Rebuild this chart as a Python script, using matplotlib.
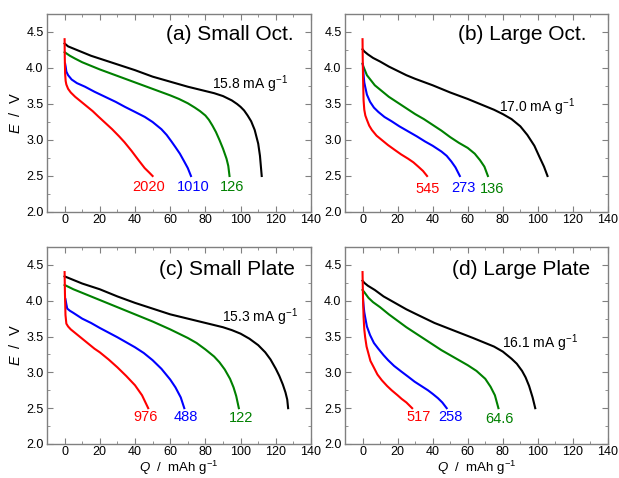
import matplotlib
matplotlib.use("Agg")
import matplotlib.pyplot as plt
from matplotlib.ticker import MultipleLocator, FormatStrFormatter

plt.rcParams['font.family'] = ['Liberation Sans', 'DejaVu Sans']
plt.rcParams['mathtext.fontset'] = 'custom'
plt.rcParams['mathtext.rm'] = 'Liberation Sans'
plt.rcParams['mathtext.it'] = 'Liberation Sans:italic'

# discharge curves: capacity Q (mAh/g) vs potential E (V)
# (a) small octahedra
a_q_black = [0, 2, 5, 10, 15, 20, 30, 40, 50, 60, 70, 80, 85, 90, 95, 98, 100, 102, 104, 106, 108, 110, 111, 112]
a_e_black = [4.34, 4.30, 4.27, 4.22, 4.17, 4.13, 4.05, 3.97, 3.88, 3.81, 3.74, 3.68, 3.65, 3.61, 3.55, 3.50,
             3.46, 3.41, 3.34, 3.26, 3.14, 2.95, 2.78, 2.50]
a_q_green = [0, 3, 6, 10, 15, 20, 30, 40, 50, 60, 65, 70, 74, 77, 80, 82, 84, 86, 88, 90, 92, 93, 93.7]
a_e_green = [4.22, 4.17, 4.13, 4.08, 4.03, 3.98, 3.89, 3.80, 3.71, 3.62, 3.57, 3.51, 3.45, 3.40, 3.34, 3.28,
             3.20, 3.11, 3.00, 2.88, 2.74, 2.64, 2.50]
a_q_blue = [0.3, 0.6, 1, 2, 4, 7, 11.6, 17, 23, 29, 34.3, 40, 45.6, 50, 55, 58, 60.7, 63, 65.5, 68, 70, 71.8]
a_e_blue = [4.06, 4.02, 3.95, 3.90, 3.84, 3.79, 3.74, 3.67, 3.60, 3.53, 3.46, 3.39, 3.32, 3.25, 3.15, 3.07,
            2.98, 2.90, 2.81, 2.70, 2.61, 2.50]
a_q_red = [0, 0.1, 0.3, 0.6, 1, 2, 3.5, 6, 9, 12, 16, 19, 23, 27, 31, 34, 38, 42, 45.5, 48, 50]
a_e_red = [4.40, 4.15, 3.92, 3.82, 3.77, 3.71, 3.66, 3.60, 3.54, 3.48, 3.40, 3.33, 3.24, 3.15, 3.05, 2.97,
           2.85, 2.72, 2.61, 2.55, 2.50]

# (b) large octahedra
b_q_black = [0, 1, 3, 6, 10, 15, 20, 25, 30, 40, 50, 60, 65, 70, 75, 80, 85, 90, 94, 98, 101, 103.5, 105.5]
b_e_black = [4.26, 4.23, 4.19, 4.14, 4.09, 4.02, 3.96, 3.90, 3.85, 3.76, 3.66, 3.57, 3.52, 3.47, 3.42, 3.36,
             3.29, 3.19, 3.07, 2.92, 2.76, 2.63, 2.50]
b_q_green = [0, 0.5, 2.5, 7, 10, 15, 20, 25, 30, 35, 40, 45, 50, 55, 60, 64, 67, 69.5, 71.5]
b_e_green = [4.06, 4.02, 3.90, 3.76, 3.70, 3.60, 3.52, 3.44, 3.36, 3.29, 3.21, 3.13, 3.04, 2.96, 2.89, 2.81,
             2.72, 2.63, 2.50]
b_q_blue = [0.2, 0.6, 1, 1.5, 2.5, 4.3, 6.5, 9, 12.5, 16.6, 21, 26, 31, 35.6, 40, 45, 48, 50.7, 53, 55.5]
b_e_blue = [4.05, 3.90, 3.80, 3.74, 3.63, 3.53, 3.45, 3.39, 3.32, 3.26, 3.19, 3.12, 3.05, 2.98, 2.92, 2.84,
            2.78, 2.70, 2.62, 2.50]
b_q_red = [0, 0.1, 0.3, 0.6, 1, 1.6, 2.5, 3.8, 5.3, 8, 11, 14.5, 18.5, 22, 26, 29, 31.8, 34.5, 36.8]
b_e_red = [4.40, 4.15, 3.85, 3.55, 3.42, 3.34, 3.28, 3.20, 3.14, 3.06, 3.00, 2.93, 2.86, 2.80, 2.74, 2.69,
           2.63, 2.57, 2.50]

# (c) small plates
c_q_black = [0, 5, 10, 20, 30, 40, 50, 60, 70, 80, 90, 95, 100, 105, 110, 114, 117, 120, 122, 124, 125.5,
             126.5, 127]
c_e_black = [4.34, 4.29, 4.24, 4.16, 4.06, 3.97, 3.89, 3.81, 3.75, 3.69, 3.63, 3.59, 3.54, 3.47, 3.38, 3.28,
             3.18, 3.05, 2.95, 2.83, 2.72, 2.62, 2.50]
c_q_green = [0, 5, 10, 20, 30, 40, 50, 60, 70, 75, 80, 85, 88, 91, 94, 96, 97.5, 99]
c_e_green = [4.22, 4.16, 4.11, 4.01, 3.91, 3.81, 3.71, 3.60, 3.48, 3.41, 3.32, 3.22, 3.14, 3.04, 2.91, 2.79,
             2.67, 2.50]
c_q_blue = [0.5, 1, 1.5, 3, 5, 10, 15, 20, 30, 40, 45, 50, 55, 60, 63, 66, 68]
c_e_blue = [4.02, 3.95, 3.89, 3.86, 3.83, 3.75, 3.69, 3.62, 3.49, 3.35, 3.27, 3.17, 3.05, 2.90, 2.79, 2.65, 2.50]
c_q_red = [0, 0.2, 0.5, 1, 2, 3.5, 6, 9, 13, 17, 20, 25, 30, 35, 40, 44, 47.5]
c_e_red = [4.40, 4.10, 3.80, 3.68, 3.64, 3.60, 3.55, 3.49, 3.41, 3.33, 3.28, 3.18, 3.07, 2.95, 2.82, 2.68, 2.50]

# (d) large plates
d_q_black = [0, 1, 3, 7, 12, 18.5, 25, 30, 41, 52.5, 63, 70, 75, 80, 85, 88, 91, 93, 95, 97, 98.5]
d_e_black = [4.28, 4.25, 4.21, 4.15, 4.06, 3.97, 3.88, 3.82, 3.69, 3.58, 3.48, 3.41, 3.36, 3.29, 3.19, 3.12,
             3.02, 2.93, 2.81, 2.65, 2.50]
d_q_green = [0, 1, 3.4, 6, 10, 15, 20, 25, 30, 35, 40, 45, 50, 55, 60, 65, 70, 73, 75.5, 77.5]
d_e_green = [4.15, 4.12, 4.04, 3.98, 3.91, 3.81, 3.72, 3.63, 3.55, 3.47, 3.39, 3.31, 3.24, 3.17, 3.10, 3.02,
             2.91, 2.80, 2.68, 2.50]
d_q_blue = [0.3, 0.6, 1, 1.5, 2.5, 4.3, 6.5, 9, 12, 14.6, 18, 22.2, 26, 29.7, 33.5, 37.3, 40, 43, 45.5, 48]
d_e_blue = [4.02, 3.93, 3.84, 3.77, 3.64, 3.52, 3.41, 3.33, 3.24, 3.17, 3.09, 3.01, 2.94, 2.87, 2.81, 2.75,
            2.70, 2.64, 2.58, 2.50]
d_q_red = [0, 0.1, 0.3, 0.6, 1, 1.5, 2.3, 3.4, 4.5, 6.2, 8.5, 11, 14, 16.6, 20, 22.3, 25, 28.3]
d_e_red = [4.40, 4.25, 4.00, 3.77, 3.60, 3.49, 3.36, 3.26, 3.16, 3.08, 2.97, 2.89, 2.81, 2.75, 2.68, 2.63,
           2.58, 2.50]

titles = ['(a) Small Oct.', '(b) Large Oct.', '(c) Small Plate', '(d) Large Plate']
rates_black = ['15.8', '17.0', '15.3', '16.1']
rates_green = ['126', '136', '122', '64.6']
rates_blue = ['1010', '273', '488', '258']
rates_red = ['2020', '545', '976', '517']

curves = [
    [(a_q_black, a_e_black), (a_q_green, a_e_green), (a_q_blue, a_e_blue), (a_q_red, a_e_red)],
    [(b_q_black, b_e_black), (b_q_green, b_e_green), (b_q_blue, b_e_blue), (b_q_red, b_e_red)],
    [(c_q_black, c_e_black), (c_q_green, c_e_green), (c_q_blue, c_e_blue), (c_q_red, c_e_red)],
    [(d_q_black, d_e_black), (d_q_green, d_e_green), (d_q_blue, d_e_blue), (d_q_red, d_e_red)],
]
colors = ['black', 'green', 'blue', 'red']

# text placement in data coordinates for each panel
title_pos = [(130, 4.46), (128, 4.46), (131, 4.43), (129.6, 4.44)]
black_pos = [(84, 3.77), (77.8, 3.45), (89.3, 3.77), (79.7, 3.41)]
green_pos = [(95, 2.35), (74, 2.32), (100.3, 2.36), (78.1, 2.35)]
blue_pos = [(73.2, 2.35), (57.7, 2.33), (68.9, 2.37), (50.2, 2.37)]
red_pos = [(48, 2.35), (36.9, 2.32), (45.8, 2.37), (31.8, 2.37)]

fig = plt.figure(figsize=(6.19, 4.78), dpi=100)
W, H = 619, 478
boxes = [(47, 14, 311, 212), (345, 14, 608, 212), (47, 247, 311, 444), (345, 247, 608, 444)]

spine_col = '#808080'
for i, (x0, y0, x1, y1) in enumerate(boxes):
    ax = fig.add_axes([x0 / W, 1 - y1 / H, (x1 - x0) / W, (y1 - y0) / H])
    for (q, e), c in zip(curves[i], colors):
        ax.plot(q, e, color=c, lw=1.5)
    ax.set_xlim(-10, 140)
    ax.set_ylim(2.0, 4.75)
    ax.xaxis.set_major_locator(MultipleLocator(20))
    ax.xaxis.set_minor_locator(MultipleLocator(10))
    ax.yaxis.set_major_locator(MultipleLocator(0.5))
    ax.yaxis.set_minor_locator(MultipleLocator(0.25))
    ax.yaxis.set_major_formatter(FormatStrFormatter('%.1f'))
    ax.tick_params(which='both', direction='in', top=True, right=True,
                   color=spine_col, labelsize=9)
    ax.tick_params(axis='x', pad=1.5)
    ax.tick_params(axis='y', pad=2.5)
    ax.tick_params(which='major', length=4)
    ax.tick_params(which='minor', length=2.5)
    for s in ax.spines.values():
        s.set_color(spine_col)
        s.set_linewidth(1.0)

    ax.text(*title_pos[i], titles[i], fontsize=15, ha='right', va='center')
    ax.text(*black_pos[i], rates_black[i] + ' mA g$^{-1}$', fontsize=10,
            ha='left', va='center', color='black')
    ax.text(*green_pos[i], rates_green[i], fontsize=10.5, ha='center', va='center', color='green')
    ax.text(*blue_pos[i], rates_blue[i], fontsize=10.5, ha='center', va='center', color='blue')
    ax.text(*red_pos[i], rates_red[i], fontsize=10.5, ha='center', va='center', color='red')

    if i in (0, 2):
        ax.set_ylabel('$E$  /  V', fontsize=10.5, va='center')
        ax.yaxis.set_label_coords(-0.121, 0.5)
    if i in (2, 3):
        ax.set_xlabel('$Q$  /  mAh g$^{-1}$', fontsize=9.5, va='center')
        ax.xaxis.set_label_coords(0.5, -0.122)

fig.savefig('out.png', dpi=100)
